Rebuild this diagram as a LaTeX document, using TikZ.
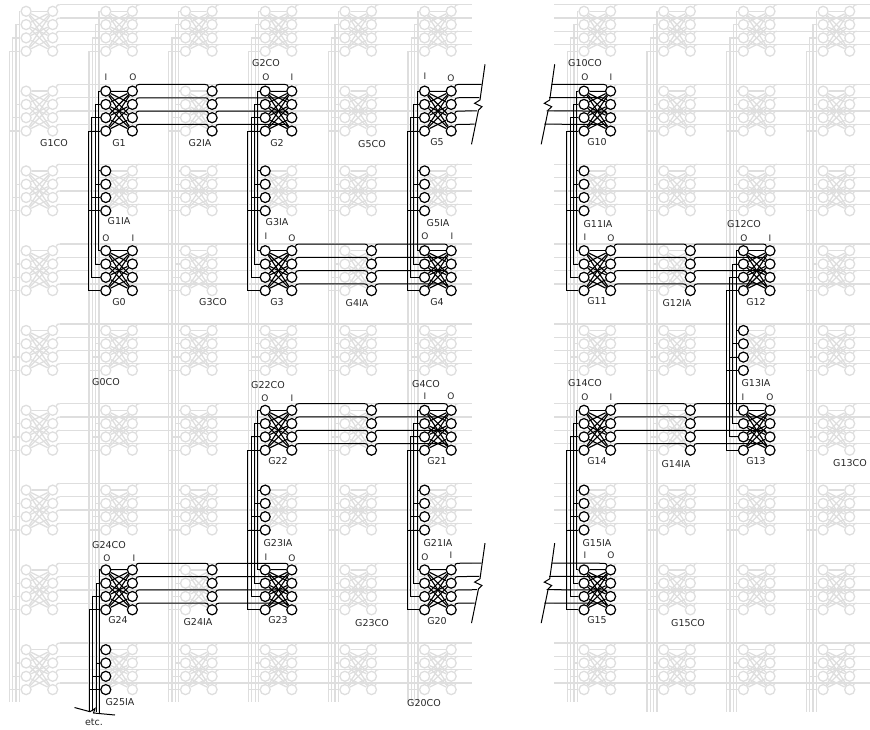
\documentclass[tikz,border=0pt]{standalone}
\usepackage{fontspec}
\setmainfont{DejaVu Sans}
\usetikzlibrary{calc}
% one column of four pins: name, x, top y, style
\newcommand{\pincol}[4]{\foreach \i in {0,...,3}{\node[#4] (#1\i) at (#2,{#3+13.3*\i}) {};}}
% crossbar: name, centre x, top y, pin style, line style
\newcommand{\xbar}[5]{%
  \pincol{#1l}{#2-13.3}{#3}{#4}
  \pincol{#1r}{#2+13.3}{#3}{#4}
  \draw[#5] (#1l0) -- (#1r0);
  \foreach \a in {0,...,3}{\foreach \b in {0,...,3}{\ifnum\a=\b\relax\else\draw[#5] (#1l\a) -- (#1r\b);\fi}}}
% wire leaves a pin upwards, wire comes down onto a pin
\newcommand{\riseR}[1]{(#1.50) .. controls +(1,-1.8) and +(-2.5,0) .. ($(#1)+(7,-6.65)$)}
\newcommand{\dropL}[1]{-- ($(#1)+(-7,-6.65)$) .. controls +(2.5,0) and +(-1,-1.8) .. (#1.130)}
% wires from one crossbar over the middle pins to the next one
\newcommand{\link}[3]{\foreach \i in {0,...,3}{\draw[wire] \riseR{#1r\i} \dropL{#2\i} \riseR{#2\i} \dropL{#3r\i};}}
% bus on the left of the pins: upper crossbar, middle pins, lower crossbar
\newcommand{\bus}[3]{\foreach \i in {0,...,3}{
  \draw[wire] (#1l\i.west) -- ++({-1.7-3.33*\i},0) coordinate (#1v\i) |- (#3l\i.west);
  \draw[wire] (#2\i.west) -- (#2\i.west -| #1v\i);}}
% broken line with the wire ends on it
\newcommand{\brk}[3]{%
  \draw[wire] (#2,#3) coordinate (#1a) -- ++(-5,35.7) -- ++(-5.4,3.3) -- ++(7.4,3.4) -- ++(-3.5,3.3) -- ++(-7,34.3);
  \foreach \i in {0,...,3}{\coordinate (#1e\i) at ({#2-3.4-2.3*\i},{#3+20+13.3*\i});}}
\begin{document}
\begin{tikzpicture}[x=1pt,y=-1pt,
  gpin/.style={draw=black!13, line width=1.3pt, circle, fill=white, minimum size=10pt, inner sep=0pt},
  gbar/.style={draw=black!13, line width=1.3pt},
  gwire/.style={draw=black!13, line width=1.3pt},
  bpin/.style={draw=black, line width=1.2pt, circle, fill=white, minimum size=10pt, inner sep=0pt},
  bbar/.style={draw=black, line width=1.1pt},
  wire/.style={draw=black, line width=1pt},
  lbl/.style={font=\fontsize{9.5}{11}\selectfont, text=black!85, inner sep=0pt},
  iolbl/.style={font=\fontsize{9}{10}\selectfont, text=black!85, inner sep=0pt}
]
\useasboundingbox (0,0) rectangle (870,729);
% Gray grid of crossbars
\foreach \cx/\vb [count=\c] in {39.4/702,119.1/712,198.8/702,278.5/702,358.2/702,437.9/702,597.3/702,677/712,756.7/712,836.4/712}{
  \foreach \cy [count=\r] in {11.3,91.1,170.9,250.7,330.5,410.3,490.1,569.9,649.7}{
    \xbar{c\c-\r}{\cx}{\cy}{gpin}{gbar}
    \foreach \i in {0,...,3}{
      \draw[gwire] \riseR{c\c-\r r\i};
      \draw[gwire] (c\c-\r l\i.west) -- ++({-1.7-3.33*\i},0);
    }
  }
  \foreach \i in {0,...,3}{
    \coordinate (v\c-\i) at ({\cx-20-3.33*\i},\vb);
    \draw[gwire] (c\c-1l\i.west) -| (v\c-\i);
  }
}
% Gray row wires
\foreach \cy [count=\r] in {11.3,91.1,170.9,250.7,330.5,410.3,490.1,569.9,649.7}{
  \foreach \i in {0,...,3}{
    \coordinate (rowa\r-\i) at (471.5,{\cy-6.65+13.3*\i});
    \coordinate (rowb\r-\i) at (554.3,{\cy-6.65+13.3*\i});
    \coordinate (rowc\r-\i) at (870,{\cy-6.65+13.3*\i});
    \draw[gwire] ($(c1-\r r\i)+(7,-6.65)$) -- (rowa\r-\i);
    \draw[gwire] (rowb\r-\i) -- (rowc\r-\i);
  }
}
% Full crossbars
\foreach \nm/\cx/\cy in {G1/119.1/91.1,G2/278.5/91.1,G5/437.9/91.1,G10/597.3/91.1,
    G0/119.1/250.7,G3/278.5/250.7,G4/437.9/250.7,G11/597.3/250.7,G12/756.7/250.7,
    G22/278.5/410.3,G21/437.9/410.3,G14/597.3/410.3,G13/756.7/410.3,
    G24/119.1/569.9,G23/278.5/569.9,G20/437.9/569.9,G15/597.3/569.9}{
  \xbar{\nm}{\cx}{\cy}{bpin}{bbar}
}
% Pins of the middle stages
\foreach \nm/\px/\cy in {G1IA/105.8/170.9,G3IA/265.2/170.9,G5IA/424.6/170.9,G11IA/584/170.9,
    G2IA/212.1/91.1,G4IA/371.5/250.7,G12IA/690.3/250.7,G14IA/690.3/410.3,G22IA/371.5/410.3,G24IA/212.1/569.9,
    G13IA/743.4/330.5,G23IA/265.2/490.1,G21IA/424.6/490.1,G15IA/584/490.1,G25IA/105.8/649.7}{
  \pincol{\nm}{\px}{\cy}{bpin}
}
% Wires between stages
\link{G1}{G2IA}{G2}
\link{G3}{G4IA}{G4}
\link{G11}{G12IA}{G12}
\link{G14}{G14IA}{G13}
\link{G22}{G22IA}{G21}
\link{G24}{G24IA}{G23}
\bus{G1}{G1IA}{G0}
\bus{G2}{G3IA}{G3}
\bus{G5}{G5IA}{G4}
\bus{G10}{G11IA}{G11}
\bus{G12}{G13IA}{G13}
\bus{G14}{G15IA}{G15}
\bus{G22}{G23IA}{G23}
\bus{G21}{G21IA}{G20}
% Breaks between the two halves
\brk{ba}{485}{64.3}
\brk{bb}{554.7}{64.3}
\brk{bc}{485}{543.1}
\brk{bd}{554.7}{543.1}
\foreach \i in {0,...,3}{
  \draw[wire] \riseR{G5r\i} -- (bae\i);
  \draw[wire] (bbe\i) \dropL{G10r\i};
  \draw[wire] \riseR{G20r\i} -- (bce\i);
  \draw[wire] (bde\i) \dropL{G15r\i};
}
% Last stage runs off at the bottom
\draw[wire] (74.5,707.5) coordinate (etca) -- (90,711.7) -- (95,708.5) -- (93.5,713) -- (115,715) coordinate (etcb);
\foreach \i/\yb in {0/712.7,1/712.3,2/711,3/711.5}{
  \coordinate (etcv\i) at ({99.4-3.33*\i},\yb);
  \draw[wire] (G24l\i.west) -| (etcv\i);
  \draw[wire] (G25IA\i.west) -- (G25IA\i.west -| etcv\i);
}
% Labels
\foreach \t/\x/\y in {G1CO/54/143,G1/119/143,G2IA/200/143,G2/277/143,G5CO/372/144,G5/437/142,G10/597/142,
    G2CO/266/63,G10CO/585/63,G1IA/119/221,G3IA/277/222,G5IA/438/223,G11IA/598/224,
    G0/119/302,G3CO/213/302,G3/277/302,G4IA/357/303,G4/437/302,G11/597/301,G12IA/677/303,G12/756/302,G12CO/744/224,
    G0CO/106/382,G22CO/268/385,G4CO/426/384,G14CO/585/383,G13IA/756/383,
    G22/278/461,G21/437/461,G14/597/461,G14IA/676/464,G13/756/461,G13CO/850/463,
    G23IA/278/543,G21IA/438/543,G15IA/597/543,G24CO/109/545,
    G24/118/620,G24IA/198/622,G23/278/620,G23CO/372/623,G20/437/621,G15/597/620,G15CO/688/623,
    G25IA/120/702,G20CO/424/703,etc./94/722}{
  \node[lbl] (t\t) at (\x,\y) {\t};
}
\foreach \t/\x/\y [count=\n] in {I/106/77,O/133/77,O/266/77,I/292/77,I/425/76,O/451/78,O/585/77,I/611/77,
    O/106/238,I/133/238,I/266/236,O/292/238,O/425/236,I/452/236,I/585/237,O/611/238,O/744/238,I/770/238,
    O/265/398,I/292/398,I/425/396,O/451/396,O/585/397,I/611/397,I/743/397,O/770/397,
    O/107/558,I/134/558,I/266/557,O/292/558,O/425/557,I/451/555,I/585/555,O/611/555}{
  \node[iolbl] (io\n) at (\x,\y) {\t};
}
\end{tikzpicture}
\end{document}
